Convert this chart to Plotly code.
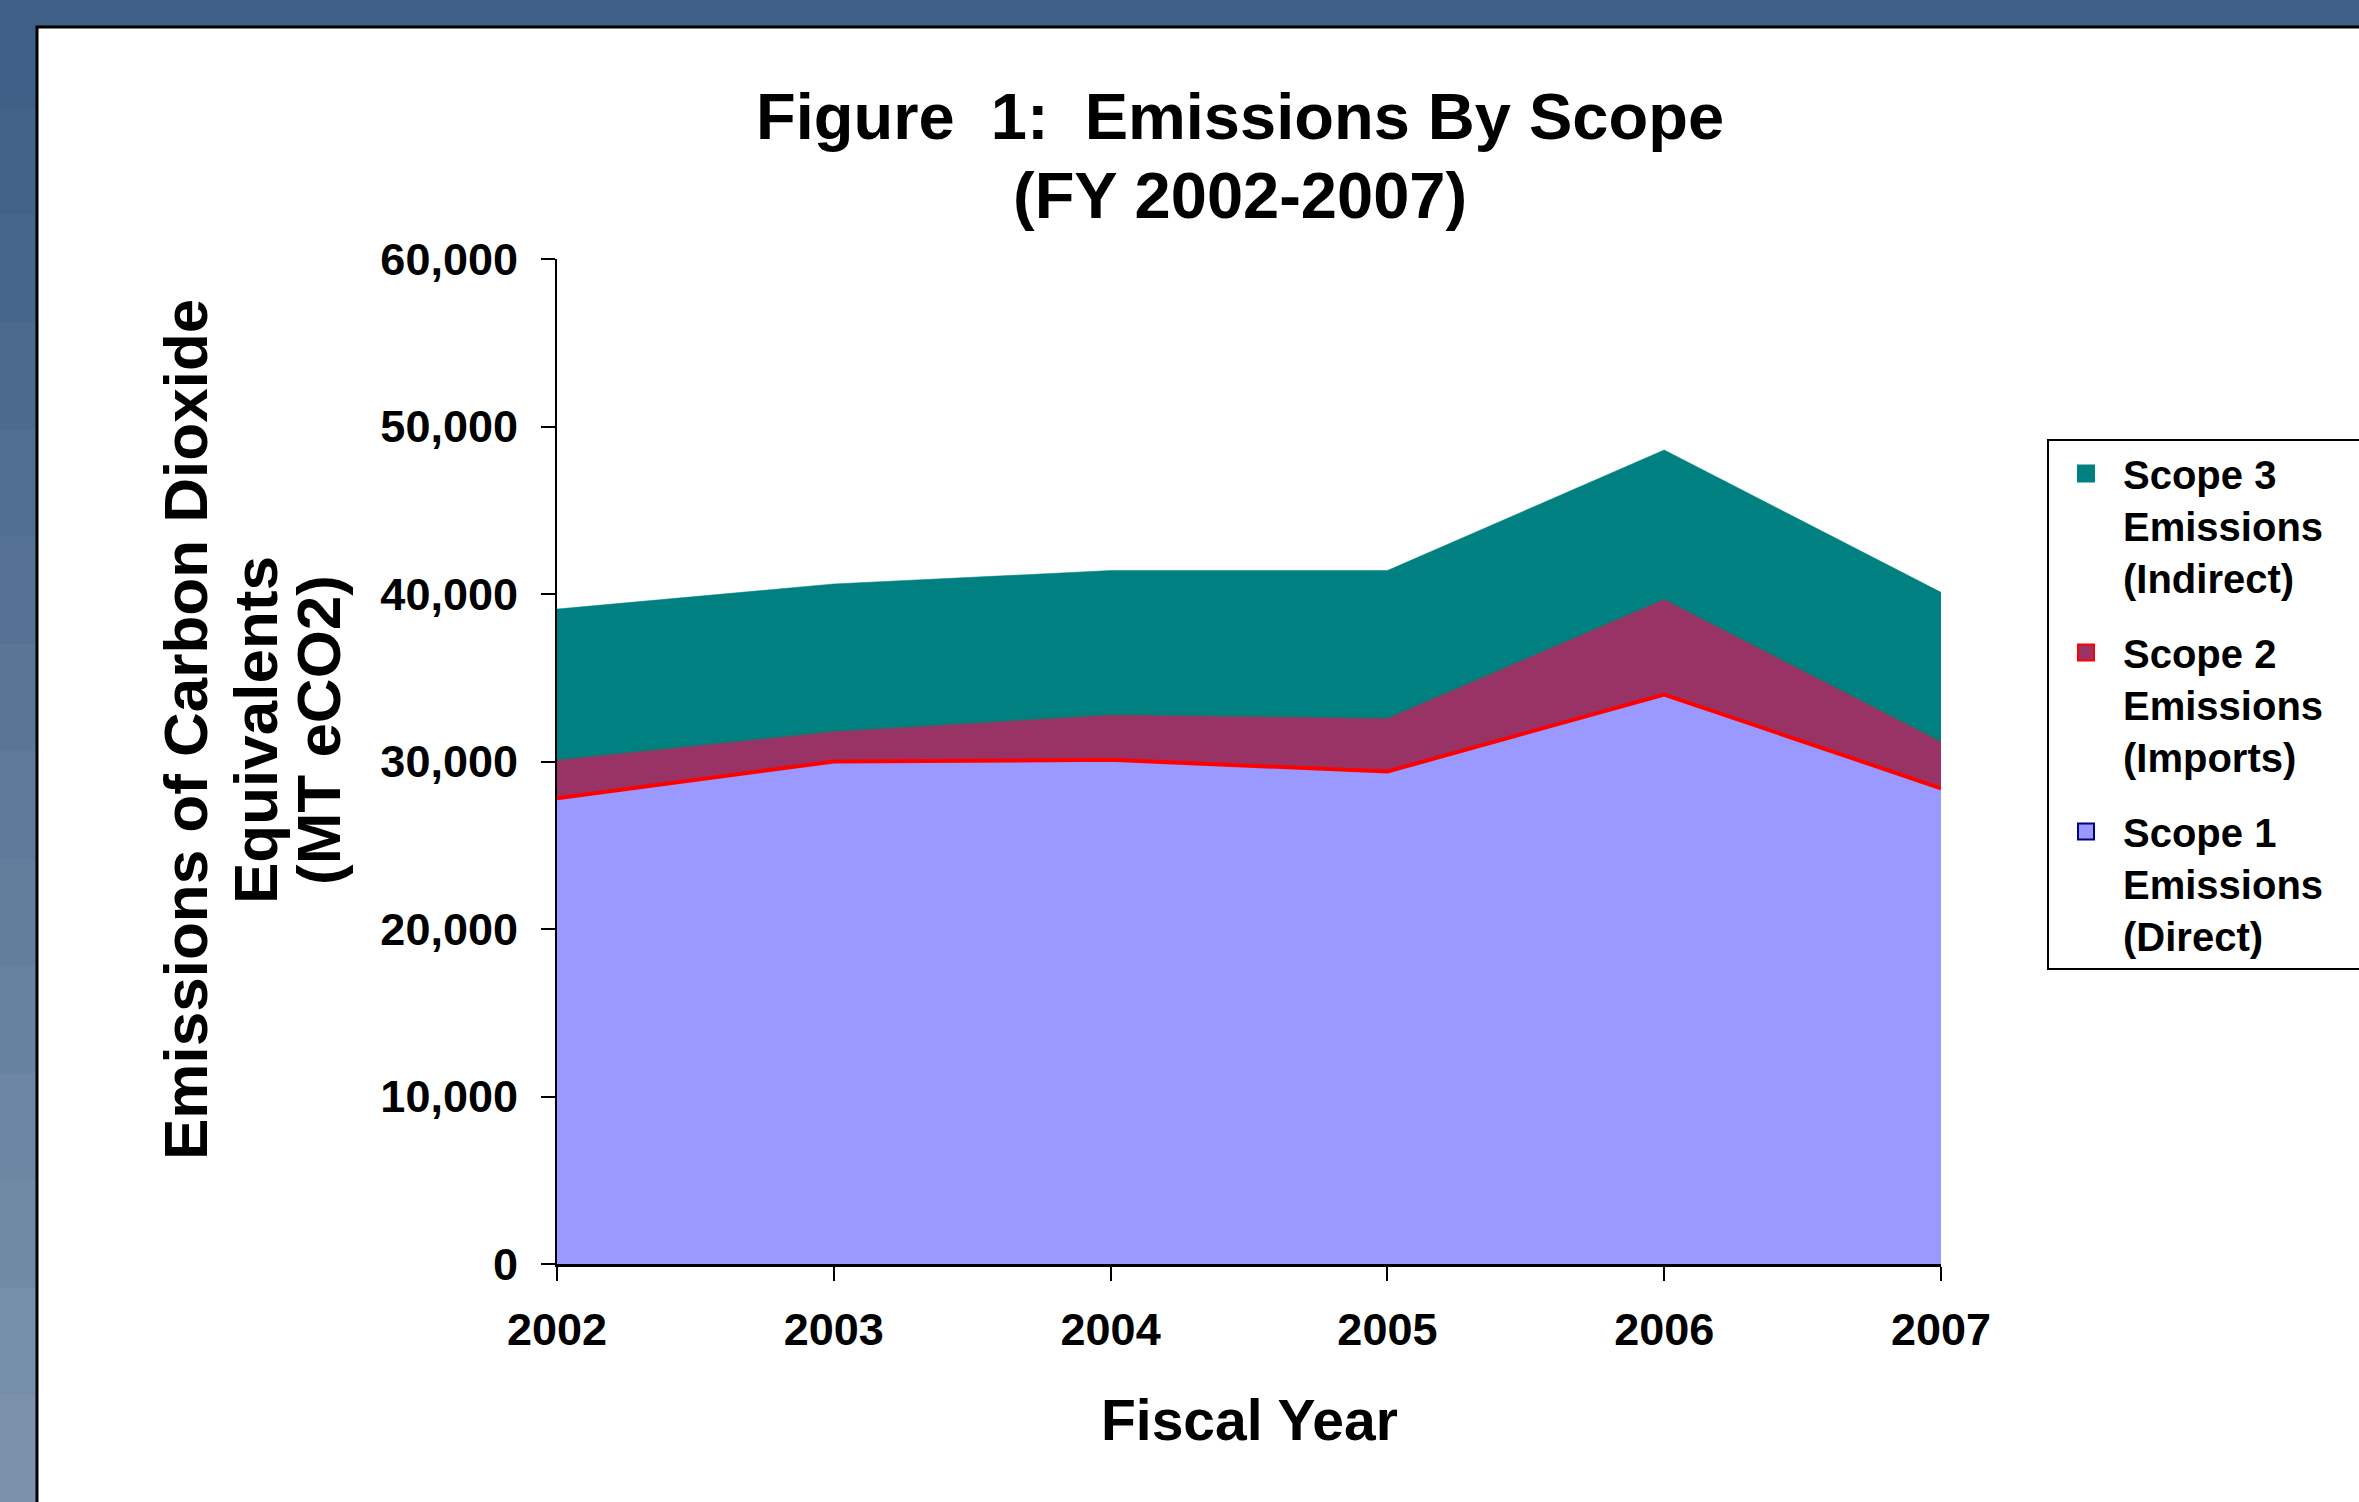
import plotly.graph_objects as go

# ---------------- data ----------------
years = [2002, 2003, 2004, 2005, 2006, 2007]
scope1_direct = [27800, 30000, 30100, 29400, 34000, 28400]
scope2_imports = [2300, 1800, 2700, 3200, 5700, 2800]
scope3_indirect = [9000, 8800, 8600, 8800, 8900, 8900]
y_tick_values = [0, 10000, 20000, 30000, 40000, 50000, 60000]
NB = "\u00a0"
name_scope1 = "Scope 1<br>Emissions" + NB * 3 + "<br>(Direct)"
name_scope2 = "Scope 2<br>Emissions" + NB * 3 + "<br>(Imports)"
name_scope3 = "Scope 3<br>Emissions" + NB * 3 + "<br>(Indirect)"
title_lines = ["Figure" + NB * 2 + "1:" + NB * 2 + "Emissions By Scope", "(FY 2002-2007)"]
x_title = "Fiscal Year"
y_title_lines = ["Emissions of Carbon Dioxide", "Equivalents", "(MT eCO2)"]

# ---------------- geometry ----------------
W, H = 2359, 1502
L, R, T, B = 557, 1941, 259, 1264


def px(x):
    return (x - L) / (R - L)


def py(y):
    return (B - y) / (B - T)


FONT = "Liberation Sans, Arial, Helvetica, sans-serif"

C1_FILL, C1_LINE = "#9999FF", "#000080"
C2_FILL, C2_LINE = "#993366", "#FF0000"
C3_FILL = "#008080"

fig = go.Figure()

# stacked areas
fig.add_trace(go.Scatter(x=years, y=scope1_direct, stackgroup="one", mode="lines",
                         fillcolor=C1_FILL, line=dict(color=C2_LINE, width=4),
                         showlegend=False, name="Scope 1"))
fig.add_trace(go.Scatter(x=years, y=scope2_imports, stackgroup="one", mode="lines",
                         fillcolor=C2_FILL, line=dict(color="#2f6a6a", width=1.5),
                         showlegend=False, name="Scope 2"))
fig.add_trace(go.Scatter(x=years, y=scope3_indirect, stackgroup="one", mode="lines",
                         fillcolor=C3_FILL, line=dict(color=C3_FILL, width=0.5),
                         showlegend=False, name="Scope 3"))

# legend entries (square swatches)
for nm, fc, lc, grp in [(name_scope3, C3_FILL, C3_FILL, "g3"),
                         (name_scope2, C2_FILL, C2_LINE, "g2"),
                         (name_scope1, C1_FILL, C1_LINE, "g1")]:
    fig.add_trace(go.Scatter(x=[None], y=[None], mode="markers", name=nm, legendgroup=grp,
                             marker=dict(symbol="square", size=16, color=fc,
                                         line=dict(color=lc, width=2))))

# background: blue frame + white panel
shapes = []
n = 14
for i in range(n):
    t = i / (n - 1)
    c0 = (62, 95, 134)
    c1 = (122, 146, 172)
    col = "rgb(%d,%d,%d)" % tuple(int(a + (b - a) * t) for a, b in zip(c0, c1))
    y0 = i * H / n
    y1 = (i + 1) * H / n + 1
    shapes.append(dict(type="rect", xref="paper", yref="paper", layer="below",
                       x0=px(0), x1=px(40), y0=py(y0), y1=py(y1),
                       fillcolor=col, line=dict(width=0)))
shapes.append(dict(type="rect", xref="paper", yref="paper", layer="below",
                   x0=px(37), x1=px(W + 20), y0=py(27), y1=py(H + 20),
                   fillcolor="white", line=dict(color="black", width=3)))

annotations = [
    dict(text=x_title, xref="paper", yref="paper", x=px(1249), y=py(1420),
         xanchor="center", yanchor="middle", showarrow=False,
         font=dict(family=FONT, size=57, color="black", weight="bold")),
]
for txt, cy in zip(title_lines, [116, 196]):
    annotations.append(dict(text=txt, xref="paper", yref="paper", x=px(1240), y=py(cy),
                            xanchor="center", yanchor="middle", showarrow=False,
                            font=dict(family=FONT, size=65, color="black", weight="bold")))
for txt, cx in zip(y_title_lines, [185, 255, 318]):
    annotations.append(dict(text=txt, xref="paper", yref="paper", x=px(cx), y=py(730),
                            xanchor="center", yanchor="middle", showarrow=False, textangle=-90,
                            font=dict(family=FONT, size=62, color="black", weight="bold")))

fig.update_layout(
    width=W, height=H,
    margin=dict(l=L, r=W - R, t=T, b=H - B, pad=0, autoexpand=False),
    paper_bgcolor="#3e5f86",
    plot_bgcolor="rgba(0,0,0,0)",
    shapes=shapes,
    annotations=annotations,
    xaxis=dict(range=[2002, 2007], tickvals=years, ticktext=[str(y) for y in years],
               showgrid=False, zeroline=False, showline=True, linecolor="black", linewidth=3,
               ticks="outside", ticklen=14, tickwidth=2, tickcolor="black",
               ticklabelstandoff=10,
               tickfont=dict(family=FONT, size=45, color="black", weight="bold")),
    yaxis=dict(range=[0, 60000], tickvals=y_tick_values, tickformat=",d",
               showgrid=False, zeroline=False, showline=True, linecolor="black", linewidth=2,
               ticks="outside", ticklen=14, tickwidth=2, tickcolor="black",
               ticklabelstandoff=14,
               tickfont=dict(family=FONT, size=45, color="black", weight="bold")),
    legend=dict(x=px(2047), y=py(439), xanchor="left", yanchor="top",
                xref="paper", yref="paper",
                bgcolor="white", bordercolor="black", borderwidth=2,
                font=dict(family=FONT, size=40, color="black", weight="bold"),
                valign="top", itemwidth=64, tracegroupgap=20, traceorder="grouped"),
    showlegend=True,
)

fig.write_html("out.html")
